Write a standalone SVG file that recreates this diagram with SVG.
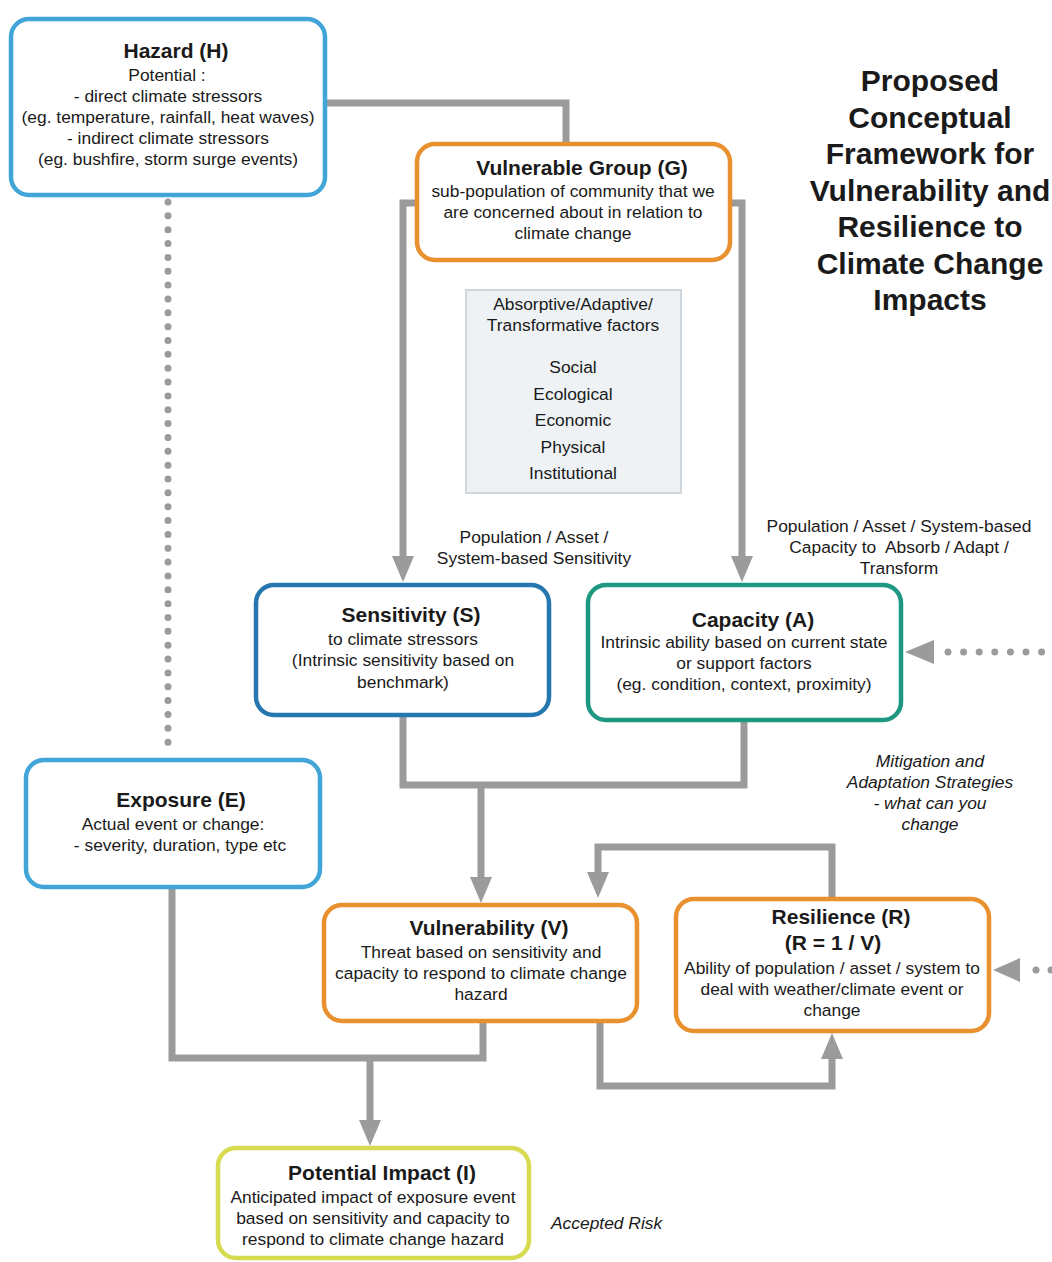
<svg xmlns="http://www.w3.org/2000/svg" width="1052" height="1262" viewBox="0 0 1052 1262">
<style>
text{font-family:"Liberation Sans",Arial,sans-serif;fill:#1a1a1a;text-anchor:middle}
.t{font-size:21px;font-weight:bold}
.b{font-size:17.4px}
.big{font-size:30px;font-weight:bold}
.it{font-size:17.4px;font-style:italic}
.box{fill:#fff;stroke-width:4.5}
.conn{fill:none;stroke:#9b9b9b;stroke-width:7}
.dot{fill:none;stroke:#9b9b9b;stroke-width:7;stroke-linecap:round}
.ah{fill:#9b9b9b}
</style>
<defs>
<marker id="arr" markerUnits="userSpaceOnUse" markerWidth="26" markerHeight="22" refX="12" refY="11" orient="auto">
<path d="M0,0 L26,11 L0,22 Z" fill="#9b9b9b"/>
</marker>
</defs>
<rect width="1052" height="1262" fill="#fff"/>

<g id="connectors">
<path class="conn" d="M325,103 H566 V144"/>
<path class="conn" d="M419,203 H403 V568" marker-end="url(#arr)"/>
<path class="conn" d="M728,203 H742 V568" marker-end="url(#arr)"/>
<path class="conn" d="M403,715 V785 H744 V720"/>
<path class="conn" d="M481,785 V889" marker-end="url(#arr)"/>
<path class="conn" d="M832,899 V847 H598 V884" marker-end="url(#arr)"/>
<path class="conn" d="M600,1021 V1086 H832 V1047" marker-end="url(#arr)"/>
<path class="conn" d="M172,887 V1058 H483 V1021"/>
<path class="conn" d="M370,1058 V1132" marker-end="url(#arr)"/>
<path class="dot" d="M168,202 V756" stroke-dasharray="0 13.85"/>
<path class="dot" d="M948,652 H1052" stroke-dasharray="0 15.6"/>
<polygon class="ah" points="905,652 934,640 934,664"/>
<path class="dot" d="M1036,970 H1060" stroke-dasharray="0 15"/>
<polygon class="ah" points="993,970 1020,958 1020,982"/>
</g>

<g id="title">
<text class="big" x="930" y="91">Proposed</text>
<text class="big" x="930" y="128">Conceptual</text>
<text class="big" x="930" y="164">Framework for</text>
<text class="big" x="930" y="201">Vulnerability and</text>
<text class="big" x="930" y="237">Resilience to</text>
<text class="big" x="930" y="274">Climate Change</text>
<text class="big" x="930" y="310">Impacts</text>
</g>

<g id="hazard">
<rect class="box" x="11" y="19" width="314" height="176" rx="18" stroke="#42a5d8"/>
<text class="t" x="176" y="58">Hazard (H)</text>
<text class="b" x="167" y="81">Potential :</text>
<text class="b" x="168" y="102">- direct climate stressors</text>
<text class="b" x="168" y="123">(eg. temperature, rainfall, heat waves)</text>
<text class="b" x="168" y="144">- indirect climate stressors</text>
<text class="b" x="168" y="165">(eg. bushfire, storm surge events)</text>
</g>

<g id="group">
<rect class="box" x="417" y="144" width="313" height="116" rx="18" stroke="#e8912e"/>
<text class="t" x="582" y="175">Vulnerable Group (G)</text>
<text class="b" x="573" y="197">sub-population of community that we</text>
<text class="b" x="573" y="218">are concerned about in relation to</text>
<text class="b" x="573" y="239">climate change</text>
</g>

<g id="factors">
<rect x="466" y="290" width="215" height="203" fill="#eef2f5" stroke="#cfd6dc" stroke-width="2"/>
<text class="b" x="573" y="310">Absorptive/Adaptive/</text>
<text class="b" x="573" y="331">Transformative factors</text>
<text class="b" x="573" y="373">Social</text>
<text class="b" x="573" y="400">Ecological</text>
<text class="b" x="573" y="426">Economic</text>
<text class="b" x="573" y="453">Physical</text>
<text class="b" x="573" y="479">Institutional</text>
</g>

<g id="labels">
<text class="b" x="534" y="543">Population / Asset /</text>
<text class="b" x="534" y="564">System-based Sensitivity</text>
<text class="b" x="899" y="532">Population / Asset / System-based</text>
<text class="b" x="899" y="553">Capacity to&#160; Absorb / Adapt /</text>
<text class="b" x="899" y="574">Transform</text>
<text class="it" x="930" y="767">Mitigation and</text>
<text class="it" x="930" y="788">Adaptation Strategies</text>
<text class="it" x="930" y="809">- what can you</text>
<text class="it" x="930" y="830">change</text>
<text class="it" x="551" y="1229" style="text-anchor:start">Accepted Risk</text>
</g>

<g id="sensitivity">
<rect class="box" x="256" y="585" width="293" height="130" rx="18" stroke="#2677b0"/>
<text class="t" x="411" y="622">Sensitivity (S)</text>
<text class="b" x="403" y="645">to climate stressors</text>
<text class="b" x="403" y="666">(Intrinsic sensitivity based on</text>
<text class="b" x="403" y="688">benchmark)</text>
</g>

<g id="capacity">
<rect class="box" x="588" y="585" width="313" height="135" rx="18" stroke="#1e9880"/>
<text class="t" x="753" y="627">Capacity (A)</text>
<text class="b" x="744" y="648">Intrinsic ability based on current state</text>
<text class="b" x="744" y="669">or support factors</text>
<text class="b" x="744" y="690">(eg. condition, context, proximity)</text>
</g>

<g id="exposure">
<rect class="box" x="26" y="760" width="294" height="127" rx="18" stroke="#42a5d8"/>
<text class="t" x="181" y="807">Exposure (E)</text>
<text class="b" x="173" y="830">Actual event or change:</text>
<text class="b" x="180" y="851">- severity, duration, type etc</text>
</g>

<g id="vulnerability">
<rect class="box" x="324" y="905" width="313" height="116" rx="18" stroke="#e8912e"/>
<text class="t" x="489" y="935">Vulnerability (V)</text>
<text class="b" x="481" y="958">Threat based on sensitivity and</text>
<text class="b" x="481" y="979">capacity to respond to climate change</text>
<text class="b" x="481" y="1000">hazard</text>
</g>

<g id="resilience">
<rect class="box" x="676" y="899" width="313" height="132" rx="18" stroke="#e8912e"/>
<text class="t" x="841" y="924">Resilience (R)</text>
<text class="t" x="833" y="950">(R = 1 / V)</text>
<text class="b" x="832" y="974">Ability of population / asset / system to</text>
<text class="b" x="832" y="995">deal with weather/climate event or</text>
<text class="b" x="832" y="1016">change</text>
</g>

<g id="impact">
<rect class="box" x="218" y="1148" width="311" height="110" rx="18" stroke="#d6db4f"/>
<text class="t" x="382" y="1180">Potential Impact (I)</text>
<text class="b" x="373" y="1203">Anticipated impact of exposure event</text>
<text class="b" x="373" y="1224">based on sensitivity and capacity to</text>
<text class="b" x="373" y="1245">respond to climate change hazard</text>
</g>
</svg>
